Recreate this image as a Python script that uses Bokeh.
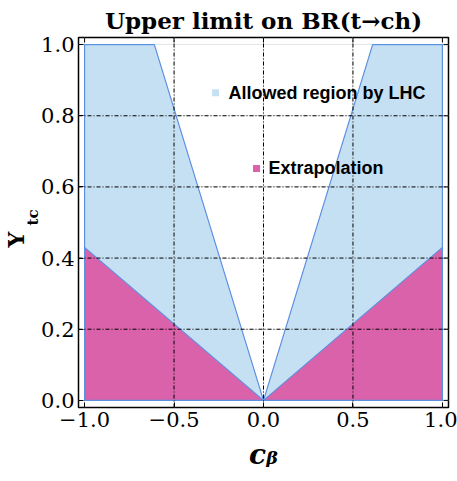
import numpy as np
from bokeh.plotting import figure
from bokeh.models import Range1d, LinearAxis, FixedTicker, Title
from bokeh.core.properties import value
from bokeh.embed import file_html
from bokeh.resources import INLINE

# ---- data ----
allowed_left_x = [-1.0, -1.0, -0.61, 0.0]
allowed_left_y = [0.0, 1.0, 1.0, 0.0]
allowed_right_x = [0.0, 0.61, 1.0, 1.0]
allowed_right_y = [0.0, 1.0, 1.0, 0.0]
extrap_left_x = [-1.0, -1.0, 0.0]
extrap_left_y = [0.0, 0.43, 0.0]
extrap_right_x = [0.0, 1.0, 1.0]
extrap_right_y = [0.0, 0.43, 0.0]
x_ticks = [-1.0, -0.5, 0.0, 0.5, 1.0]
x_tick_labels = ["\u22121.0", "\u22120.5", "0.0", "0.5", "1.0"]
y_ticks = [0.0, 0.2, 0.4, 0.6, 0.8, 1.0]
y_tick_labels = ["0.0", "0.2", "0.4", "0.6", "0.8", "1.0"]
legend_labels = ["Allowed region by LHC", "Extrapolation"]

X0, X1 = -1.034, 1.034
Y0, Y1 = -0.02, 1.02

BLUE_FILL = "#c6e0f3"
BLUE_LINE = "#5b8fe0"
PINK_FILL = "#da62aa"
SERIF = "DejaVu Serif"

p = figure(width=457, height=481, output_backend="svg", toolbar_location=None,
           x_range=Range1d(X0, X1), y_range=Range1d(Y0, Y1),
           min_border_left=78, min_border_right=9, min_border_top=37, min_border_bottom=74,
           x_axis_location=None, y_axis_location=None)

p.title.text = "Upper limit on BR(t\u2192ch)"
p.title.text_font = SERIF
p.title.text_font_style = "bold"
p.title.text_font_size = "23px"
p.title.align = "center"
p.title.offset = 0
p.title.standoff = 8
p.title.text_color = "black"

p.background_fill_color = "white"
p.border_fill_color = "white"
p.outline_line_color = "black"
p.outline_line_width = 1.5

p.patch(allowed_left_x, allowed_left_y, fill_color=BLUE_FILL, line_color=BLUE_LINE, line_width=1.2)
p.patch(allowed_right_x, allowed_right_y, fill_color=BLUE_FILL, line_color=BLUE_LINE, line_width=1.2)
p.patch(extrap_left_x, extrap_left_y, fill_color=PINK_FILL, line_color=BLUE_LINE, line_width=1.2)
p.patch(extrap_right_x, extrap_right_y, fill_color=PINK_FILL, line_color=BLUE_LINE, line_width=1.2)

# grid lines (drawn above fills, as in the reference)
for xv in x_ticks[1:-1]:
    p.line([xv, xv], [Y0, Y1], line_color="black", line_width=1, line_dash="4 2 1 2")
for yv in y_ticks[1:-1]:
    p.line([X0, X1], [yv, yv], line_color="black", line_width=1, line_dash="4 2 1 2")

def make_axis(ticks, labels):
    ax = LinearAxis(ticker=FixedTicker(ticks=ticks))
    ax.major_label_overrides = {t: l for t, l in zip(ticks, labels)}
    ax.major_tick_in = 5
    ax.major_tick_out = 0
    ax.minor_tick_line_color = None
    ax.axis_line_color = None
    ax.major_tick_line_color = "black"
    ax.major_label_text_font = SERIF
    ax.major_label_text_font_size = "21px"
    ax.major_label_text_color = "black"
    ax.major_label_standoff = 4
    return ax

p.add_layout(make_axis(x_ticks, x_tick_labels), "below")
p.add_layout(make_axis(y_ticks, y_tick_labels), "left")

# axis titles as side-panel titles
p.add_layout(Title(text="c\u1d66", text_font=SERIF, text_font_style="bold italic",
                   text_font_size="28px", align="center", standoff=12, text_color="black"), "below")
p.add_layout(Title(text="tc", text_font=SERIF, text_font_style="bold",
                   text_font_size="15px", align="left", offset=182, standoff=-6, text_color="black"), "left")
p.add_layout(Title(text="Y", text_font=SERIF, text_font_style="bold",
                   text_font_size="22px", align="left", offset=160, standoff=-8, text_color="black"), "left")

# inward ticks on top and right frame edges
tick_dy = 5 / 356
tick_dx = 5 / 179
p.segment(x0=x_ticks, y0=[Y1] * len(x_ticks), x1=x_ticks, y1=[Y1 - tick_dy] * len(x_ticks),
          line_color="black", line_width=1)
p.segment(x0=[X1] * len(y_ticks), y0=y_ticks, x1=[X1 - tick_dx] * len(y_ticks), y1=y_ticks,
          line_color="black", line_width=1)

# legend (manual)
p.scatter([-0.268], [0.865], marker="square", size=7, fill_color=BLUE_FILL, line_color=None)
p.scatter([-0.039], [0.652], marker="square", size=7, fill_color=PINK_FILL, line_color=None)
p.text([-0.196], [0.865], text=[legend_labels[0]], text_font=value("Liberation Sans"),
       text_font_style="bold", text_font_size="18px", text_baseline="middle", text_color="black")
p.text([0.028], [0.652], text=[legend_labels[1]], text_font=value("Liberation Sans"),
       text_font_style="bold", text_font_size="18px", text_baseline="middle", text_color="black")

open("out.html", "w").write(file_html(p, INLINE))
